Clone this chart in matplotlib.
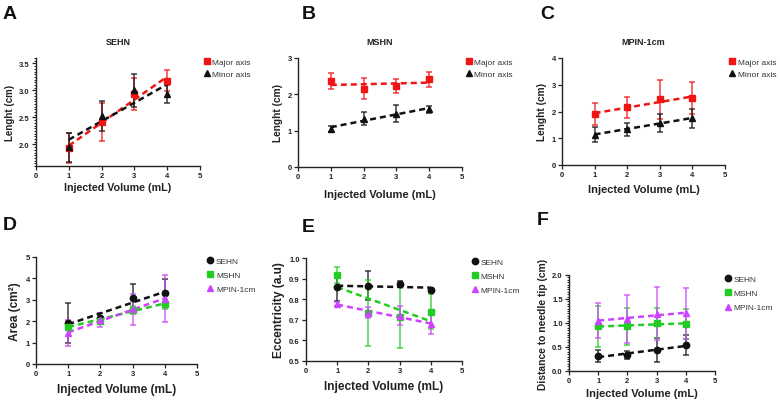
import numpy as np
import matplotlib
matplotlib.use('Agg')
import matplotlib.pyplot as plt
from matplotlib.ticker import MultipleLocator

plt.rcParams['font.family'] = ['Liberation Sans', 'DejaVu Sans']

volume = [1, 2, 3, 4]

# A - SEHN lengths
sehn_major = [1.93, 2.42, 2.93, 3.18]
sehn_major_err = [0.28, 0.35, 0.30, 0.20]
sehn_minor = [1.95, 2.52, 3.00, 2.93]
sehn_minor_err = [0.27, 0.28, 0.30, 0.17]

# B - MSHN lengths
mshn_major = [2.36, 2.16, 2.23, 2.41]
mshn_major_err = [0.22, 0.28, 0.18, 0.21]
mshn_minor = [1.05, 1.33, 1.47, 1.59]
mshn_minor_err = [0.08, 0.18, 0.24, 0.10]

# C - MPIN-1cm lengths
mpin_major = [1.90, 2.15, 2.46, 2.49]
mpin_major_err = [0.41, 0.38, 0.73, 0.60]
mpin_minor = [1.14, 1.34, 1.57, 1.75]
mpin_minor_err = [0.27, 0.24, 0.33, 0.35]

# D - Area
area_sehn = [1.92, 2.17, 3.07, 3.31]
area_sehn_err = [0.92, 0.23, 0.65, 0.65]
area_mshn = [1.75, 2.03, 2.53, 2.81]
area_mshn_err = [0.15, 0.12, 0.20, 0.25]
area_mpin = [1.45, 2.05, 2.55, 3.05]
area_mpin_err = [0.62, 0.32, 0.72, 1.10]

# E - Eccentricity
ecc_sehn = [0.858, 0.866, 0.874, 0.845]
ecc_sehn_err = [0.065, 0.072, 0.015, 0.008]
ecc_mshn = [0.918, 0.732, 0.713, 0.740]
ecc_mshn_err = [0.040, 0.160, 0.150, 0.085]
ecc_mpin = [0.777, 0.735, 0.720, 0.680]
ecc_mpin_err = [0.010, 0.025, 0.045, 0.048]

# F - Distance to needle tip
dist_sehn = [0.31, 0.34, 0.43, 0.54]
dist_sehn_err = [0.13, 0.08, 0.25, 0.20]
dist_mshn = [0.93, 0.93, 1.00, 0.98]
dist_mshn_err = [0.43, 0.38, 0.32, 0.32]
dist_mpin = [1.05, 1.09, 1.19, 1.20]
dist_mpin_err = [0.36, 0.50, 0.55, 0.53]

RED = '#f01414'
BLACK = '#111111'
GREEN = '#22cc22'
PURPLE = '#cc44ff'

W, H = 780, 402
fig = plt.figure(figsize=(W / 100, H / 100), dpi=100)


def make_ax(l, r, t, b):
    return fig.add_axes([l / W, 1 - b / H, (r - l) / W, (b - t) / H])


def series(ax, y, err, color, marker, label):
    ax.errorbar(volume, y, yerr=err, fmt='none', ecolor=color, elinewidth=1.2,
                capsize=2.2, capthick=1.2, alpha=0.75, zorder=2)
    ax.plot(volume, y, linestyle='none', marker=marker, color=color, ms=4.6,
            label=label, zorder=3)
    k, b0 = np.polyfit(volume, y, 1)
    xs = np.array([1, 4])
    ax.plot(xs, k * xs + b0, linestyle=(0, (2.4, 1.6)), color=color, lw=1.8, zorder=2.5)


def style(ax, ylim, yticks, ylabel, ysize, xsize, xpad, title=None, yfmt='{:g}',
          leg_dx=0.0, leg_fs=5.5, leg_sp=0.5, yminor=None):
    ax.set_xlim(0, 5)
    ax.set_ylim(*ylim)
    ax.set_xticks([0, 1, 2, 3, 4, 5])
    ax.set_yticks(yticks)
    ax.set_yticklabels([yfmt.format(v) for v in yticks])
    if yminor:
        ax.yaxis.set_minor_locator(MultipleLocator(yminor))
        ax.tick_params(axis='y', which='minor', length=1.6, width=0.7, colors='#222222')
    for s in ['top', 'right']:
        ax.spines[s].set_visible(False)
    for s in ['left', 'bottom']:
        ax.spines[s].set_linewidth(1.0)
        ax.spines[s].set_color('#222222')
    ax.tick_params(labelsize=5.5, length=3, width=0.9, pad=1.5, colors='#222222')
    for lab in ax.get_xticklabels() + ax.get_yticklabels():
        lab.set_fontweight('bold')
    ax.set_xlabel('Injected Volume (mL)', fontsize=xsize, fontweight='bold',
                  labelpad=xpad, color='#222222')
    ax.set_ylabel(ylabel, fontsize=ysize, fontweight='bold', labelpad=3, color='#222222')
    if title:
        ax.set_title(title, fontsize=6.5, fontweight='bold', pad=10, color='#222222')
    ax.legend(loc='upper left', bbox_to_anchor=(1.0 + leg_dx, 1.03), frameon=False,
              fontsize=leg_fs, handlelength=0.8, handletextpad=0.3, labelspacing=leg_sp,
              borderaxespad=0.0, labelcolor='#333333')


# A
ax = make_ax(36, 200, 59, 167)
series(ax, sehn_major, sehn_major_err, RED, 's', 'Major axis')
series(ax, sehn_minor, sehn_minor_err, BLACK, '^', 'Minor axis')
style(ax, (1.6, 3.6), [2.0, 2.5, 3.0, 3.5], 'Lenght (cm)', 7.0, 7.7, 2,
      'SEHN', '{:.1f}', leg_fs=6.0, yminor=0.05)

# B
ax = make_ax(298, 462, 59, 168)
series(ax, mshn_major, mshn_major_err, RED, 's', 'Major axis')
series(ax, mshn_minor, mshn_minor_err, BLACK, '^', 'Minor axis')
style(ax, (0, 3), [0, 1, 2, 3], 'Lenght (cm)', 7.3, 8.0, 6, 'MSHN', leg_fs=6.0)

# C
ax = make_ax(562, 725, 59, 166)
series(ax, mpin_major, mpin_major_err, RED, 's', 'Major axis')
series(ax, mpin_minor, mpin_minor_err, BLACK, '^', 'Minor axis')
style(ax, (0, 4), [0, 1, 2, 3, 4], 'Lenght (cm)', 7.3, 8.0, 4, 'MPIN-1cm', leg_fs=6.0)

# D
ax = make_ax(36, 197, 258, 365)
series(ax, area_sehn, area_sehn_err, BLACK, 'o', 'SEHN')
series(ax, area_mshn, area_mshn_err, GREEN, 's', 'MSHN')
series(ax, area_mpin, area_mpin_err, PURPLE, '^', 'MPIN-1cm')
style(ax, (0, 5), [0, 1, 2, 3, 4, 5], 'Area (cm²)', 8.6, 8.6, 4,
      leg_dx=0.04, leg_fs=6.0, leg_sp=0.75)

# E
ax = make_ax(306, 462, 259, 362)
series(ax, ecc_sehn, ecc_sehn_err, BLACK, 'o', 'SEHN')
series(ax, ecc_mshn, ecc_mshn_err, GREEN, 's', 'MSHN')
series(ax, ecc_mpin, ecc_mpin_err, PURPLE, '^', 'MPIN-1cm')
style(ax, (0.5, 1.0), [0.5, 0.6, 0.7, 0.8, 0.9, 1.0], 'Eccentricity (a.u)', 8.6, 8.6, 4,
      None, '{:.1f}', leg_dx=0.04, leg_fs=6.0, leg_sp=0.75)

# F
ax = make_ax(569, 715, 276, 372)
series(ax, dist_sehn, dist_sehn_err, BLACK, 'o', 'SEHN')
series(ax, dist_mshn, dist_mshn_err, GREEN, 's', 'MSHN')
series(ax, dist_mpin, dist_mpin_err, PURPLE, '^', 'MPIN-1cm')
style(ax, (0, 2.0), [0.0, 0.5, 1.0, 1.5, 2.0], 'Distance to needle tip (cm)', 7.4, 8.0, 3,
      None, '{:.1f}', leg_dx=0.04, leg_fs=6.0, leg_sp=0.75, yminor=0.05)

# panel letters
for letter, x, y in [('A', 3, 6), ('B', 302, 6), ('C', 540, 6),
                     ('D', 3, 217), ('E', 302, 219), ('F', 537, 212)]:
    fig.text(x / W, 1 - y / H, letter, fontsize=14, fontweight='bold',
             va='top', ha='left', color='#111111')

fig.savefig('out.png', dpi=100)
